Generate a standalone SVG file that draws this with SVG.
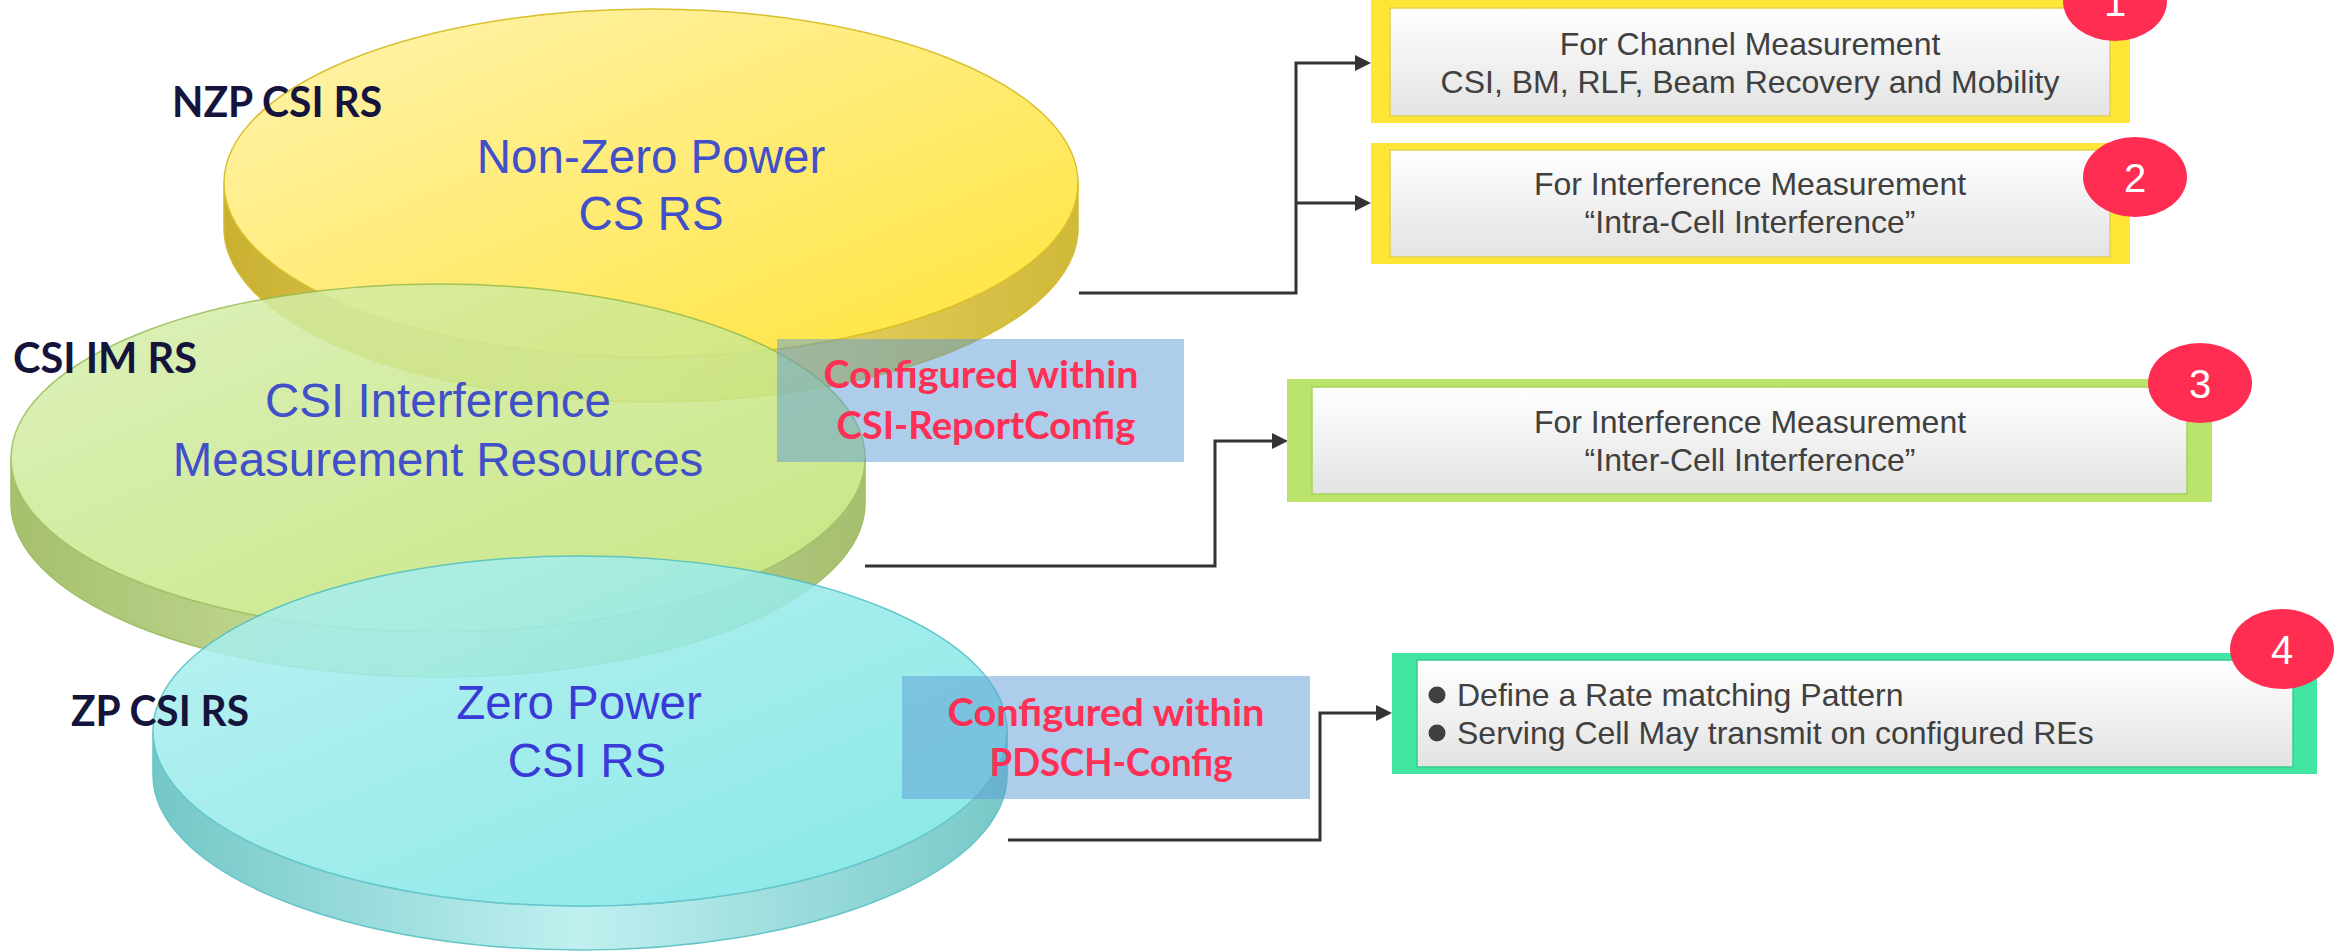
<svg xmlns="http://www.w3.org/2000/svg" width="2343" height="952" viewBox="0 0 2343 952">
  <defs>
    <!-- cylinder top faces -->
    <linearGradient id="topYellow" x1="0" y1="0" x2="1" y2="1">
      <stop offset="0" stop-color="#fff3b0"/>
      <stop offset="1" stop-color="#ffe43a"/>
    </linearGradient>
    <linearGradient id="topGreen" x1="0" y1="0" x2="1" y2="1">
      <stop offset="0" stop-color="#d8efb2"/>
      <stop offset="1" stop-color="#bfe26c"/>
    </linearGradient>
    <linearGradient id="topCyan" x1="0" y1="0" x2="1" y2="1">
      <stop offset="0" stop-color="#b2f0f0"/>
      <stop offset="1" stop-color="#74e4e4"/>
    </linearGradient>
    <!-- cylinder side bands -->
    <linearGradient id="sideYellow" x1="0" y1="0" x2="1" y2="0">
      <stop offset="0" stop-color="#c9b030"/>
      <stop offset="0.5" stop-color="#eedc78"/>
      <stop offset="1" stop-color="#d0b838"/>
    </linearGradient>
    <linearGradient id="sideGreen" x1="0" y1="0" x2="1" y2="0">
      <stop offset="0" stop-color="#98b656"/>
      <stop offset="0.5" stop-color="#c6de94"/>
      <stop offset="1" stop-color="#98b458"/>
    </linearGradient>
    <linearGradient id="sideCyan" x1="0" y1="0" x2="1" y2="0">
      <stop offset="0" stop-color="#5ebebe"/>
      <stop offset="0.5" stop-color="#b6eeee"/>
      <stop offset="1" stop-color="#62c0c0"/>
    </linearGradient>
    <!-- panel fill -->
    <linearGradient id="panel" x1="0" y1="0" x2="0" y2="1">
      <stop offset="0" stop-color="#ffffff"/>
      <stop offset="1" stop-color="#e3e3e3"/>
    </linearGradient>
    <marker id="arrow" viewBox="0 0 16 16" refX="8" refY="8" markerWidth="16" markerHeight="16" markerUnits="userSpaceOnUse" orient="auto">
      <path d="M0,0 L16,8 L0,16 Z" fill="#333333"/>
    </marker>
    <style>
      .tag { font-family: Lato, "Open Sans", sans-serif; font-weight: bold; font-size: 42px; fill: #14143c; }
      .core { font-family: "Liberation Sans", Arial, sans-serif; font-size: 47.5px; fill: #4150c8; text-anchor: middle; }
      .cfg { font-family: Lato, "Open Sans", sans-serif; font-weight: bold; font-size: 38px; fill: #ff2f55; text-anchor: middle; }
      .cfgbox { fill: #5b9bd5; opacity: 0.5; }
      .txt { font-family: "Liberation Sans", Arial, sans-serif; font-size: 32px; fill: #404040; }
      .mid { text-anchor: middle; }
      .inner { fill: url(#panel); stroke-width: 1.5; }
      .badge { fill: #ff2d52; }
      .num { font-family: "Liberation Sans", Arial, sans-serif; font-size: 40px; fill: #ffffff; text-anchor: middle; }
      .wire { fill: none; stroke: #333333; stroke-width: 3; }
    </style>
  </defs>

  <!-- NZP CSI-RS cylinder -->
  <g id="nzp-csi-rs">
    <path d="M224,183 L224,228 A427,174 0 0 0 1078,228 L1078,183 A427,174 0 0 1 224,183 Z" fill="url(#sideYellow)" stroke="#d4bb2c" stroke-width="1.5"/>
    <ellipse cx="651" cy="183" rx="427" ry="174" fill="url(#topYellow)" stroke="#d9c02e" stroke-width="1.5"/>
    <text class="core" x="651" y="173">Non-Zero Power</text>
    <text class="core" x="651" y="230">CS RS</text>
  </g>

  <!-- CSI-IM cylinder -->
  <g id="csi-im-rs" opacity="0.86">
    <path d="M11,458 L11,503 A427,174 0 0 0 865,503 L865,458 A427,174 0 0 1 11,458 Z" fill="url(#sideGreen)" stroke="#8fb64c" stroke-width="1.5"/>
    <ellipse cx="438" cy="458" rx="427" ry="174" fill="url(#topGreen)" stroke="#94bc52" stroke-width="1.5"/>
  </g>
  <g id="csi-im-rs-text">
    <text class="core" x="438" y="417">CSI Interference</text>
    <text class="core" x="438" y="476">Measurement Resources</text>
  </g>

  <!-- ZP CSI-RS cylinder -->
  <g id="zp-csi-rs" opacity="0.86">
    <path d="M153,731 L153,775 A427,175 0 0 0 1007,775 L1007,731 A427,175 0 0 1 153,731 Z" fill="url(#sideCyan)" stroke="#4cbcc0" stroke-width="1.5"/>
    <ellipse cx="580" cy="731" rx="427" ry="175" fill="url(#topCyan)" stroke="#4ec0c4" stroke-width="1.5"/>
  </g>
  <g id="zp-csi-rs-text">
    <text class="core" x="579" y="719" style="fill:#3a3ad8">Zero Power</text>
    <text class="core" x="587" y="777" style="fill:#3a3ad8">CSI RS</text>
  </g>

  <!-- side tags -->
  <g id="tags">
    <text class="tag" x="172" y="117" textLength="210" lengthAdjust="spacingAndGlyphs">NZP CSI RS</text>
    <text class="tag" x="13" y="373" textLength="184" lengthAdjust="spacingAndGlyphs">CSI IM RS</text>
    <text class="tag" x="71" y="726" textLength="178" lengthAdjust="spacingAndGlyphs">ZP CSI RS</text>
  </g>

  <!-- configuration notes -->
  <g id="cfg-report">
    <rect class="cfgbox" x="777" y="339" width="407" height="123"/>
    <text class="cfg" x="981" y="388" textLength="315" lengthAdjust="spacingAndGlyphs">Configured within</text>
    <text class="cfg" x="986" y="439" textLength="299" lengthAdjust="spacingAndGlyphs">CSI-ReportConfig</text>
  </g>
  <g id="cfg-pdsch">
    <rect class="cfgbox" x="902" y="676" width="408" height="123"/>
    <text class="cfg" x="1106" y="726" textLength="317" lengthAdjust="spacingAndGlyphs">Configured within</text>
    <text class="cfg" x="1111" y="776" textLength="243" lengthAdjust="spacingAndGlyphs">PDSCH-Config</text>
  </g>

  <!-- connectors -->
  <g id="connectors">
    <path class="wire" d="M1079,293 H1296 V63 H1363" marker-end="url(#arrow)"/>
    <path class="wire" d="M1296,203 H1363" marker-end="url(#arrow)"/>
    <path class="wire" d="M865,566 H1215 V441 H1280" marker-end="url(#arrow)"/>
    <path class="wire" d="M1008,840 H1320 V713 H1384" marker-end="url(#arrow)"/>
  </g>

  <!-- usage panels -->
  <g id="use-channel">
    <rect x="1371" y="0" width="759" height="123" fill="#ffe535"/>
    <rect class="inner" x="1390" y="8" width="720" height="108" stroke="#e2cf4c"/>
    <text class="txt mid" x="1750" y="55">For Channel Measurement</text>
    <text class="txt mid" x="1750" y="93">CSI, BM, RLF, Beam Recovery and Mobility</text>
    <ellipse class="badge" cx="2115" cy="1" rx="52" ry="40"/>
    <text class="num" x="2115" y="16">1</text>
  </g>

  <g id="use-intra">
    <rect x="1371" y="143" width="759" height="121" fill="#ffe535"/>
    <rect class="inner" x="1390" y="150" width="720" height="107" stroke="#e2cf4c"/>
    <text class="txt mid" x="1750" y="195">For Interference Measurement</text>
    <text class="txt mid" x="1750" y="233">“Intra-Cell Interference”</text>
    <ellipse class="badge" cx="2135" cy="177" rx="52" ry="40"/>
    <text class="num" x="2135" y="192">2</text>
  </g>

  <g id="use-inter">
    <rect x="1287" y="379" width="925" height="123" fill="#b9e36a"/>
    <rect class="inner" x="1312" y="387" width="875" height="107" stroke="#a6d45a"/>
    <text class="txt mid" x="1750" y="433">For Interference Measurement</text>
    <text class="txt mid" x="1750" y="471">“Inter-Cell Interference”</text>
    <ellipse class="badge" cx="2200" cy="383" rx="52" ry="40"/>
    <text class="num" x="2200" y="398">3</text>
  </g>

  <g id="use-ratematch">
    <rect x="1392" y="653" width="925" height="121" fill="#40e6a2"/>
    <rect class="inner" x="1417" y="660" width="876" height="107" stroke="#36cc8e"/>
    <circle cx="1437" cy="695" r="8.5" fill="#404040"/>
    <text class="txt" x="1457" y="706">Define a Rate matching Pattern</text>
    <circle cx="1437" cy="733" r="8.5" fill="#404040"/>
    <text class="txt" x="1457" y="744">Serving Cell May transmit on configured REs</text>
    <ellipse class="badge" cx="2282" cy="649" rx="52" ry="40"/>
    <text class="num" x="2282" y="664">4</text>
  </g>
</svg>
